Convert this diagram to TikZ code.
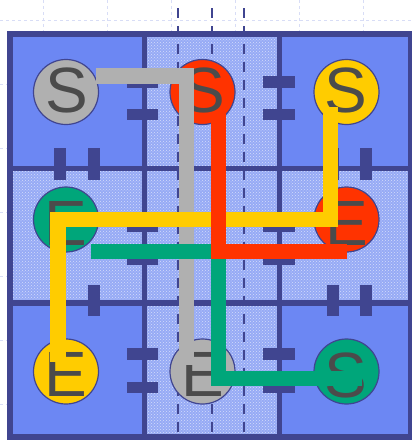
\documentclass[tikz,border=0pt]{standalone}
\usepackage{fontspec}
\setmainfont{Liberation Sans}
\usetikzlibrary{patterns}
\definecolor{gridblue}{RGB}{64,69,144}
\definecolor{cellblue}{RGB}{108,135,243}
\definecolor{stipple}{RGB}{150,170,245}
\definecolor{faintline}{RGB}{216,221,246}
\definecolor{lgray}{RGB}{176,176,176}
\definecolor{lred}{RGB}{255,51,0}
\definecolor{lyellow}{RGB}{255,204,0}
\definecolor{lgreen}{RGB}{0,166,122}
\definecolor{lettercol}{RGB}{75,75,75}
\begin{document}
\begin{tikzpicture}[x=1pt,y=-1pt,
  gate/.style={fill=gridblue},
  divider/.style={draw=gridblue,line width=5.6pt},
  lane/.style={draw=gridblue,line width=1.8pt,dash pattern=on 10pt off 8pt},
  faint/.style={draw=faintline,line width=1pt,dash pattern=on 3pt off 3pt},
  disc/.style={circle,draw=gridblue,line width=1.2pt,minimum size=65pt,inner sep=0pt},
  glyph/.style={text=lettercol,font=\fontsize{64}{64}\selectfont,inner sep=0pt,anchor=base},
  wire/.style={line width=15.5pt,line join=miter,line cap=butt},
  ]
\useasboundingbox (0,0) rectangle (412,440);
\fill[white] (0,0) rectangle (412,440);
% faint background grid
\foreach \x in {43,107,171,235,299,363} \draw[faint] (\x,0) -- (\x,440);
\foreach \y in {20,84,148,212,276,340,404} \draw[faint] (0,\y) -- (412,\y);
% cells
\fill[cellblue] (10,33.5) rectangle (411,436.5);
\fill[stipple] (144.5,33.5) rectangle (279.5,436.5);
\fill[stipple] (10,168.3) rectangle (411,303);
\fill[pattern=crosshatch dots,pattern color=white!60!stipple] (144.5,33.5) rectangle (279.5,436.5);
\fill[pattern=crosshatch dots,pattern color=white!60!stipple] (10,168.3) rectangle (144.5,303);
\fill[pattern=crosshatch dots,pattern color=white!60!stipple] (279.5,168.3) rectangle (411,303);
% lanes
\foreach \x in {178,212,244} \draw[lane] (\x,8) -- (\x,440);
% dividers
\draw[divider] (144.5,33.5) -- (144.5,436.5);
\draw[divider] (279.5,33.5) -- (279.5,436.5);
\draw[divider] (10,168.3) -- (411,168.3);
\draw[divider] (10,303) -- (411,303);
\draw[gridblue,line width=6pt] (10.3,33.5) rectangle (411,436.5);
% gates on vertical dividers
\foreach \ya/\yb in {76/87.5,108.5/120,221/232,254/265,348/360,382/393}{
  \fill[gate] (127,\ya) rectangle (158,\yb);
  \fill[gate] (263,\ya) rectangle (295,\yb);
}
% gates on horizontal dividers
\foreach \xa/\xb in {54/66,88/99.5,327/338.5,360/372}{
  \fill[gate] (\xa,148) rectangle (\xb,180);
  \fill[gate] (\xa,285) rectangle (\xb,316);
}
% discs
\node[disc,fill=lgray]   (gS)  at (66,92) {};
\node[disc,fill=lred]    (rS)  at (202.5,92) {};
\node[disc,fill=lyellow] (yS)  at (346.5,92) {};
\node[disc,fill=lgreen]  (gnE) at (66,219.5) {};
\node[disc,fill=lred]    (rE)  at (346.5,219.5) {};
\node[disc,fill=lyellow] (yE)  at (66,371.5) {};
\node[disc,fill=lgray]   (gE)  at (202.5,371.5) {};
\node[disc,fill=lgreen]  (gnS) at (346.5,371.5) {};
% letters
\node[glyph] (tgS)  at (66.5,112.5) {S};
\node[glyph] (trS)  at (204,112.5) {S};
\node[glyph] (tyS)  at (346,112.5) {S};
\node[glyph] (tgnE) at (66.3,245) {E};
\node[glyph] (trE)  at (346.8,245) {E};
\node[glyph] (tyE)  at (66.3,396.5) {E};
\node[glyph] (tgE)  at (202.8,396.5) {E};
\node[glyph] (tgnS) at (346,397) {S};
% wire waypoints
\coordinate (g0) at (96,75.8);
\coordinate (g1) at (186.5,75.8);
\coordinate (g2) at (186.5,365);
\coordinate (y0) at (330.5,107);
\coordinate (y1) at (330.5,219.5);
\coordinate (y2) at (57.8,219.5);
\coordinate (y3) at (57.8,362);
\coordinate (n0) at (362,378.5);
\coordinate (n1) at (218.7,378.5);
\coordinate (n2) at (218.7,251.3);
\coordinate (n3) at (91,251.3);
\coordinate (r0) at (218.7,113);
\coordinate (r1) at (218.7,251.3);
\coordinate (r2) at (346.7,251.3);
% wires
\draw[wire,lgray]   (g0) -- (g1) -- (g2);
\draw[wire,lyellow] (y0) -- (y1) -- (y2) -- (y3);
\draw[wire,lgreen]  (n0) -- (n1) -- (n2) -- (n3);
\draw[wire,lred]    (r0) -- (r1) -- (r2);
\end{tikzpicture}
\end{document}
